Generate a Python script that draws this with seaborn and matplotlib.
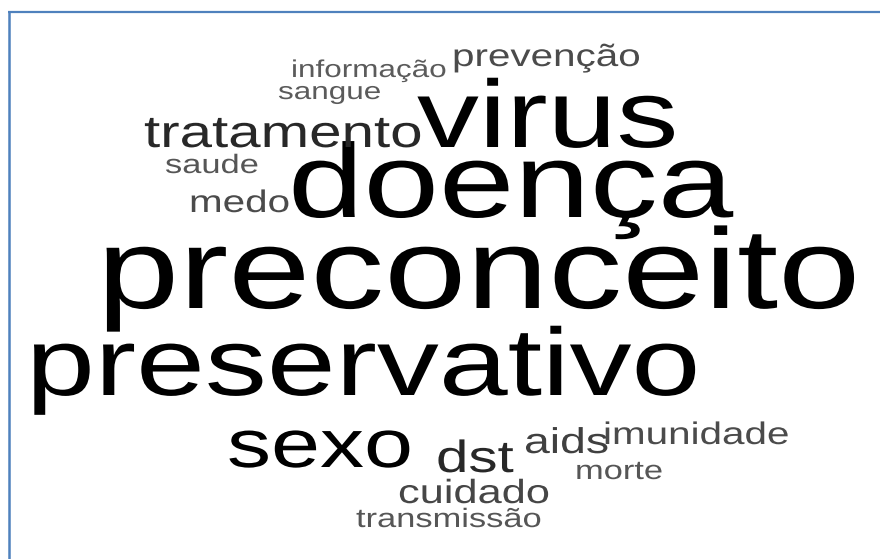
import matplotlib
matplotlib.use("Agg")
import matplotlib.pyplot as plt
import seaborn as sns
from matplotlib.patheffects import AbstractPathEffect
from matplotlib.transforms import Affine2D

# ---- data: words and their (estimated) frequencies ----
words = ["preconceito", "doença", "virus", "preservativo", "sexo", "dst",
         "tratamento", "aids", "cuidado", "medo", "prevenção", "imunidade",
         "saude", "morte", "transmissão", "informação", "sangue"]
freq = [40, 36, 32, 32, 20, 10, 10, 6, 5, 4, 4, 4, 2, 2, 2, 1, 1]

# ---- layout of the cloud (left edge, baseline) in pixel units ----
pos_x = [97, 288, 417, 26, 227, 436, 144, 524, 398, 189, 452, 603,
         165, 575, 356, 291, 278]
pos_y = [308, 217, 147, 395, 467, 472, 147, 453, 503, 212, 66, 444,
         173, 479, 527, 77, 99]

W, H, DPI = 880, 559, 100
STRETCH = 1.295  # the reference is rendered horizontally stretched


class StretchX(AbstractPathEffect):
    """Draw the glyph outlines stretched horizontally about the text origin."""

    def __init__(self, sx):
        super().__init__((0, 0))
        self.sx = sx

    def draw_path(self, renderer, gc, tpath, affine, rgbFace=None):
        renderer.draw_path(gc, tpath, Affine2D().scale(self.sx, 1.0) + affine, rgbFace)


sns.set_theme(style="white")
plt.rcParams["font.family"] = ["Liberation Sans", "DejaVu Sans"]

fig = plt.figure(figsize=(W / DPI, H / DPI), dpi=DPI)
fig.patch.set_facecolor("white")
ax = fig.add_axes([0, 0, 1, 1])
ax.set_xlim(0, W)
ax.set_ylim(H, 0)
ax.axis("off")

cmap = sns.color_palette("Greys", as_cmap=True)


def size_px(f):
    return 22 + 2.3 * f


for w, f, x, y in zip(words, freq, pos_x, pos_y):
    t = 0.70 + 0.30 * min(f / 18.0, 1.0)
    ax.text(x, y, w, fontsize=size_px(f) * 72.0 / DPI, color=cmap(t),
            ha="left", va="baseline",
            path_effects=[StretchX(STRETCH)])

# frame of the original picture (only top and left edges visible)
border = "#4F81BD"
ax.plot([8, W + 10], [12, 12], color=border, lw=1.6, clip_on=False,
        solid_capstyle="butt")
ax.plot([8.5, 8.5], [12, H + 10], color=border, lw=1.8, clip_on=False,
        solid_capstyle="butt")

fig.savefig("out.png", dpi=DPI, facecolor="white")
